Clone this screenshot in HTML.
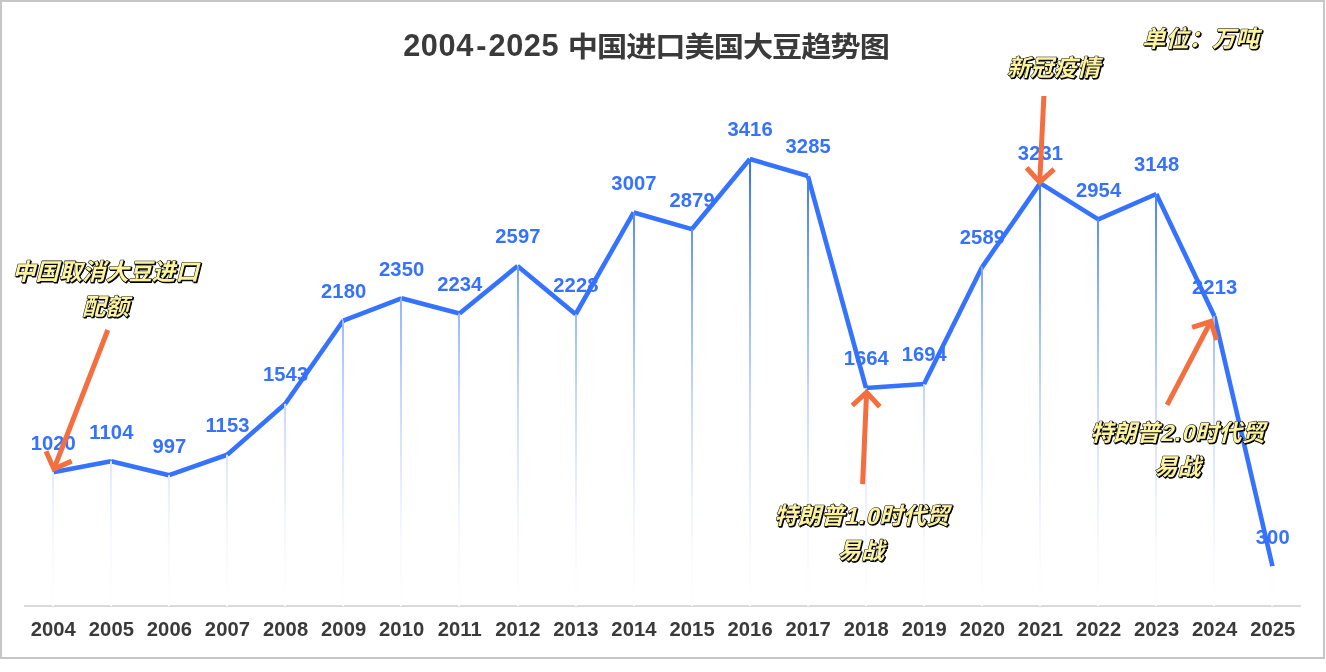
<!DOCTYPE html>
<html lang="zh-CN"><head><meta charset="utf-8"><title>2004-2025 中国进口美国大豆趋势图</title>
<style>
html,body{margin:0;padding:0;background:#fff;}
body{width:1326px;height:672px;overflow:hidden;position:relative;}
svg{position:absolute;left:0;top:0;display:block;}
.lat{font-family:"Liberation Sans",sans-serif;font-weight:700;}
.cjk{font-family:"Liberation Sans","Noto Sans CJK SC",sans-serif;font-weight:700;}
.dl{font-family:"Liberation Sans",sans-serif;font-weight:700;font-size:20.2px;fill:#3572FF;letter-spacing:0.1px;}
.ax{font-family:"Liberation Sans",sans-serif;font-weight:700;font-size:20.2px;fill:#3A3A3A;letter-spacing:0.1px;}
.note{font-family:"Liberation Sans","Noto Sans CJK SC",sans-serif;font-weight:700;font-size:23.3px;fill:#FBF3A0;stroke:#000;stroke-width:1.1px;stroke-linejoin:round;paint-order:stroke fill;}
.noteshadow{filter:drop-shadow(1.0px 1.0px 0 #000);}
</style></head><body>
<svg width="1326" height="672" viewBox="0 0 1326 672">
<defs><linearGradient id="dg" gradientUnits="userSpaceOnUse" x1="0" y1="158" x2="0" y2="606"><stop offset="0" stop-color="#3370FF"/><stop offset="0.328" stop-color="#95B5FF"/><stop offset="0.54" stop-color="#C8D8FF"/><stop offset="0.708" stop-color="#E4EBFF"/><stop offset="0.79" stop-color="#F0F4FF"/><stop offset="0.87" stop-color="#F8FAFF"/><stop offset="1" stop-color="#FFFFFF"/></linearGradient></defs>
<rect x="1" y="1" width="1323" height="657" fill="#fff" stroke="#C6C6C6" stroke-width="2"/>
<rect x="24" y="605" width="1277" height="2" fill="#DADADA"/>
<g stroke="#3572FF" stroke-width="4.6" stroke-linecap="butt" fill="none">
<line x1="53.00" y1="472.17" x2="111.07" y2="461.19"/>
<line x1="111.07" y1="461.19" x2="169.14" y2="475.17"/>
<line x1="169.14" y1="475.17" x2="227.21" y2="454.78"/>
<line x1="227.21" y1="454.78" x2="285.28" y2="403.80"/>
<line x1="285.28" y1="403.80" x2="343.35" y2="320.53"/>
<line x1="343.35" y1="320.53" x2="401.42" y2="298.31"/>
<line x1="401.42" y1="298.31" x2="459.49" y2="313.47"/>
<line x1="459.49" y1="313.47" x2="517.56" y2="266.02"/>
<line x1="517.56" y1="266.02" x2="575.63" y2="314.26"/>
<line x1="575.63" y1="314.26" x2="633.70" y2="212.42"/>
<line x1="633.70" y1="212.42" x2="691.77" y2="229.16"/>
<line x1="691.77" y1="229.16" x2="749.84" y2="158.96"/>
<line x1="749.84" y1="158.96" x2="807.91" y2="176.08"/>
<line x1="807.91" y1="176.08" x2="865.98" y2="387.98"/>
<line x1="865.98" y1="387.98" x2="924.05" y2="384.06"/>
<line x1="924.05" y1="384.06" x2="982.12" y2="267.07"/>
<line x1="982.12" y1="267.07" x2="1040.19" y2="183.14"/>
<line x1="1040.19" y1="183.14" x2="1098.26" y2="219.35"/>
<line x1="1098.26" y1="219.35" x2="1156.33" y2="193.99"/>
<line x1="1156.33" y1="193.99" x2="1214.40" y2="316.22"/>
<line x1="1214.40" y1="316.22" x2="1272.47" y2="566.28"/>
</g>
<g fill="url(#dg)">
<rect x="52" y="472.2" width="2" height="133.8"/>
<rect x="110" y="461.2" width="2" height="144.8"/>
<rect x="168" y="475.2" width="2" height="130.8"/>
<rect x="226" y="454.8" width="2" height="151.2"/>
<rect x="284" y="403.8" width="2" height="202.2"/>
<rect x="342" y="320.5" width="2" height="285.5"/>
<rect x="400" y="298.3" width="2" height="307.7"/>
<rect x="458" y="313.5" width="2" height="292.5"/>
<rect x="517" y="266.0" width="2" height="340.0"/>
<rect x="575" y="314.3" width="2" height="291.7"/>
<rect x="633" y="212.4" width="2" height="393.6"/>
<rect x="691" y="229.2" width="2" height="376.8"/>
<rect x="749" y="159.0" width="2" height="447.0"/>
<rect x="807" y="176.1" width="2" height="429.9"/>
<rect x="865" y="388.0" width="2" height="218.0"/>
<rect x="923" y="384.1" width="2" height="221.9"/>
<rect x="981" y="267.1" width="2" height="338.9"/>
<rect x="1039" y="183.1" width="2" height="422.9"/>
<rect x="1097" y="219.4" width="2" height="386.6"/>
<rect x="1155" y="194.0" width="2" height="412.0"/>
<rect x="1213" y="316.2" width="2" height="289.8"/>
<rect x="1271" y="566.3" width="2" height="39.7"/>
</g>
<g class="dl" text-anchor="middle">
<text x="53.3" y="449.5">1020</text>
<text x="111.4" y="438.5">1104</text>
<text x="169.4" y="452.5">997</text>
<text x="227.5" y="432.1">1153</text>
<text x="285.6" y="381.1">1543</text>
<text x="343.7" y="297.8">2180</text>
<text x="401.7" y="275.6">2350</text>
<text x="459.8" y="290.8">2234</text>
<text x="517.9" y="243.3">2597</text>
<text x="575.9" y="291.6">2228</text>
<text x="634.0" y="189.7">3007</text>
<text x="692.1" y="206.5">2879</text>
<text x="750.1" y="136.3">3416</text>
<text x="808.2" y="153.4">3285</text>
<text x="866.3" y="365.3">1664</text>
<text x="924.3" y="361.4">1694</text>
<text x="982.4" y="244.4">2589</text>
<text x="1040.5" y="160.4">3231</text>
<text x="1098.6" y="196.7">2954</text>
<text x="1156.6" y="171.3">3148</text>
<text x="1214.7" y="293.5">2213</text>
<text x="1272.8" y="543.6">300</text>
</g>
<g class="ax" text-anchor="middle">
<text x="53.3" y="635.8">2004</text>
<text x="111.4" y="635.8">2005</text>
<text x="169.4" y="635.8">2006</text>
<text x="227.5" y="635.8">2007</text>
<text x="285.6" y="635.8">2008</text>
<text x="343.7" y="635.8">2009</text>
<text x="401.7" y="635.8">2010</text>
<text x="459.8" y="635.8">2011</text>
<text x="517.9" y="635.8">2012</text>
<text x="575.9" y="635.8">2013</text>
<text x="634.0" y="635.8">2014</text>
<text x="692.1" y="635.8">2015</text>
<text x="750.1" y="635.8">2016</text>
<text x="808.2" y="635.8">2017</text>
<text x="866.3" y="635.8">2018</text>
<text x="924.3" y="635.8">2019</text>
<text x="982.4" y="635.8">2020</text>
<text x="1040.5" y="635.8">2021</text>
<text x="1098.6" y="635.8">2022</text>
<text x="1156.6" y="635.8">2023</text>
<text x="1214.7" y="635.8">2024</text>
<text x="1272.8" y="635.8">2025</text>
</g>
<text class="lat" y="56" font-size="30.7" fill="#3A3A3A" letter-spacing="0.6"><tspan x="403.2">2004</tspan><tspan x="476.3">-</tspan><tspan x="488.5">2025</tspan></text>
<text class="cjk" transform="translate(567.8 57.0) scale(1 0.935)" x="0" y="0" font-size="30.2" letter-spacing="-1.0" fill="#3A3A3A">中国进口美国大豆趋势图</text>
<g stroke="#F46F3F" stroke-width="5" fill="none" stroke-linecap="butt" stroke-linejoin="miter"><line x1="107.8" y1="330.0" x2="53.9" y2="469.0"/><polyline points="71.7,461.1 53.9,469.0 46.0,451.2"/></g>
<g stroke="#F46F3F" stroke-width="5" fill="none" stroke-linecap="butt" stroke-linejoin="miter"><line x1="1043.9" y1="96.0" x2="1039.7" y2="182.2"/><polyline points="1054.1,169.1 1039.7,182.2 1026.6,167.7"/></g>
<g stroke="#F46F3F" stroke-width="5" fill="none" stroke-linecap="butt" stroke-linejoin="miter"><line x1="862.6" y1="484.2" x2="866.6" y2="392.3"/><polyline points="852.3,405.5 866.6,392.3 879.8,406.7"/></g>
<g stroke="#F46F3F" stroke-width="5" fill="none" stroke-linecap="butt" stroke-linejoin="miter"><line x1="1167.1" y1="404.8" x2="1210.8" y2="321.5"/><polyline points="1192.1,327.3 1210.8,321.5 1216.6,340.1"/></g>
<g class="noteshadow"><text class="note" text-anchor="middle" transform="translate(105.5 280.2) scale(1 1.0) skewX(-14.04)" x="0" y="0">中国取消大豆进口</text></g>
<g class="noteshadow"><text class="note" text-anchor="middle" transform="translate(105.5 314.7) scale(1 1.0) skewX(-14.04)" x="0" y="0">配额</text></g>
<g class="noteshadow"><text class="note" text-anchor="middle" transform="translate(1053.5 76.0) scale(1 1.0) skewX(-14.04)" x="0" y="0">新冠疫情</text></g>
<g class="noteshadow"><text class="note" text-anchor="middle" transform="translate(1200.5 46.6) scale(1 1.0) skewX(-14.04)" x="0" y="0">单位：万吨</text></g>
<g class="noteshadow"><text class="note" text-anchor="middle" transform="translate(861.8 524.0) scale(1 1.0) skewX(-14.04)" x="0" y="0">特朗普<tspan letter-spacing="0.9">1.0</tspan>时代贸</text></g>
<g class="noteshadow"><text class="note" text-anchor="middle" transform="translate(861.0 558.5) scale(1 1.0) skewX(-14.04)" x="0" y="0">易战</text></g>
<g class="noteshadow"><text class="note" text-anchor="middle" transform="translate(1177.5 440.8) scale(1 1.0) skewX(-14.04)" x="0" y="0">特朗普<tspan letter-spacing="0.9">2.0</tspan>时代贸</text></g>
<g class="noteshadow"><text class="note" text-anchor="middle" transform="translate(1177.5 475.3) scale(1 1.0) skewX(-14.04)" x="0" y="0">易战</text></g>
</svg></body></html>
